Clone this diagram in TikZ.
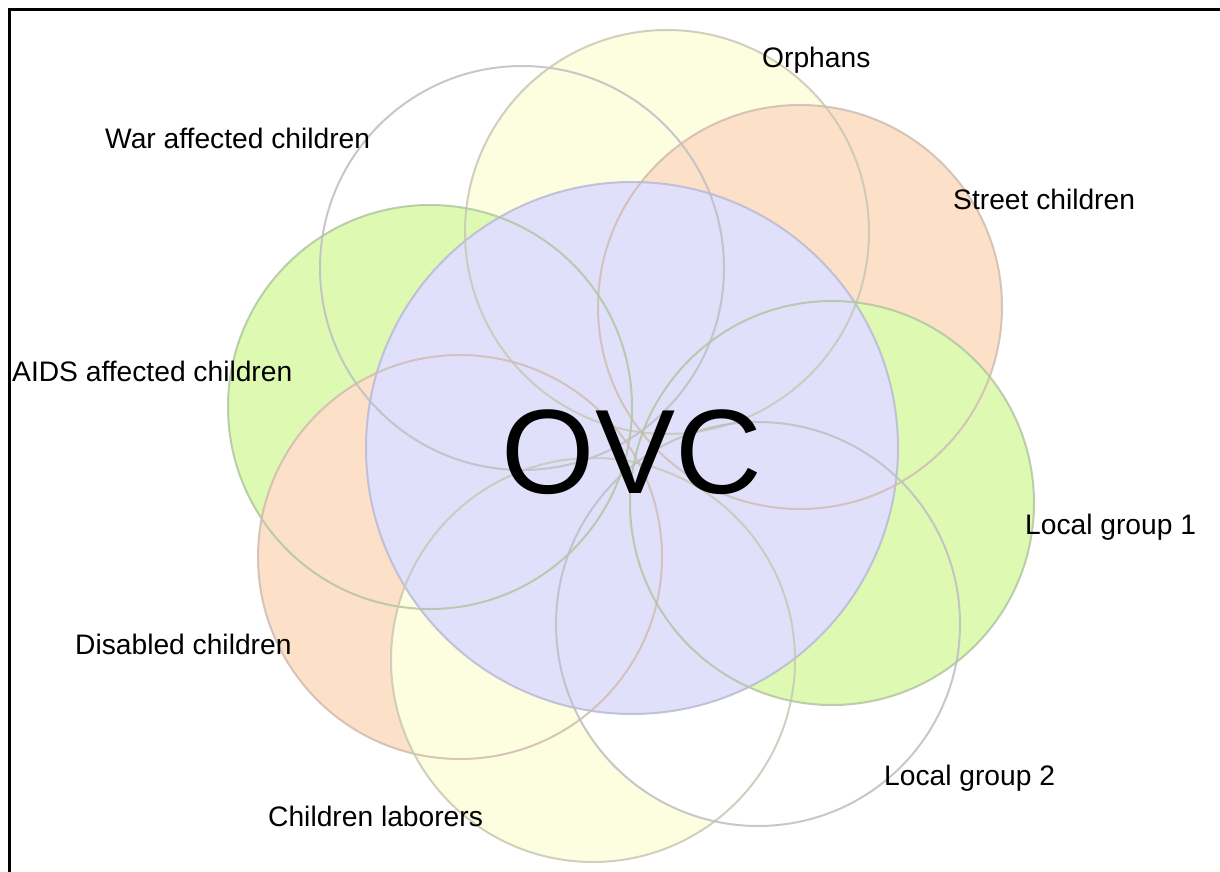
\documentclass[tikz,border=0pt]{standalone}
\usepackage{fontspec}
\setmainfont{Liberation Sans}
\definecolor{ovcLav}{RGB}{224,224,250}
\definecolor{ovcGreen}{RGB}{222,249,178}
\definecolor{ovcPeach}{RGB}{253,224,200}
\definecolor{ovcYellow}{RGB}{253,253,224}
\definecolor{lnGray}{RGB}{190,190,195}
\definecolor{lnYellow}{RGB}{200,200,182}
\definecolor{lnPeach}{RGB}{208,188,178}
\definecolor{lnGreen}{RGB}{178,198,162}
\definecolor{lnLav}{RGB}{186,186,212}
\begin{document}
\begin{tikzpicture}[x=1pt,y=-1pt,
  lbl/.style={anchor=base west, inner sep=0pt, font=\fontsize{28.2}{33}\selectfont},
  ring/.style={line width=2pt, draw opacity=0.85}]
\useasboundingbox (0,0) rectangle (1220,872);
% centres
\coordinate (war) at (522,268);
\coordinate (orph) at (667,232);
\coordinate (street) at (800,307);
\coordinate (lgone) at (832,503);
\coordinate (lgtwo) at (758,624);
\coordinate (labor) at (593,660);
\coordinate (disab) at (460,557);
\coordinate (aids) at (430,407);
\coordinate (ovc) at (632,448);
% fills
\fill[white] (war) circle[radius=202pt];
\fill[ovcYellow] (orph) circle[radius=202pt];
\fill[ovcPeach] (street) circle[radius=202pt];
\fill[ovcGreen] (aids) circle[radius=202pt];
\fill[ovcPeach] (disab) circle[radius=202pt];
\fill[ovcYellow] (labor) circle[radius=202pt];
\fill[white] (lgtwo) circle[radius=202pt];
\fill[ovcGreen] (lgone) circle[radius=202pt];
\fill[ovcLav] (ovc) circle[radius=266pt];
% outlines
\draw[ring, draw=lnLav] (ovc) circle[radius=266pt];
\draw[ring, draw=lnGray] (war) circle[radius=202pt];
\draw[ring, draw=lnYellow] (orph) circle[radius=202pt];
\draw[ring, draw=lnPeach] (street) circle[radius=202pt];
\draw[ring, draw=lnGreen] (aids) circle[radius=202pt];
\draw[ring, draw=lnPeach] (disab) circle[radius=202pt];
\draw[ring, draw=lnYellow] (labor) circle[radius=202pt];
\draw[ring, draw=lnGray] (lgtwo) circle[radius=202pt];
\draw[ring, draw=lnGreen] (lgone) circle[radius=202pt];
% labels
\node[lbl] (lorph) at (762,68) {Orphans};
\node[lbl] (lwar) at (105,149) {War affected children};
\node[lbl] (lstreet) at (953,209) {Street children};
\node[lbl] (laids) at (12,381) {AIDS affected children};
\node[lbl] (llgone) at (1025,534) {Local group 1};
\node[lbl] (ldisab) at (75,654) {Disabled children};
\node[lbl] (llgtwo) at (884,785) {Local group 2};
\node[lbl] (llabor) at (268,826) {Children laborers};
\node[anchor=base, inner sep=0pt, font=\fontsize{120}{120}\selectfont] (ovctext) at (632,493) {OVC};
% frame
\coordinate (fr) at (1220,10);
\coordinate (fc) at (9,10);
\coordinate (fb) at (9,872);
\draw[line width=3pt] (fr) -- (fc) -- (fb);
\end{tikzpicture}
\end{document}
